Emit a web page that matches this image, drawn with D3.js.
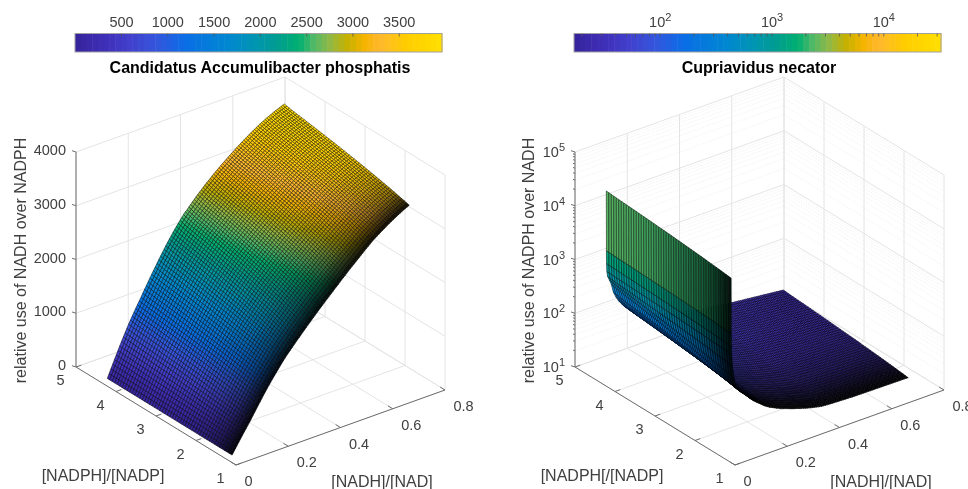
<!DOCTYPE html>
<html>
<head>
<meta charset="utf-8">
<script src="https://d3js.org/d3.v7.min.js"></script>
<style>
  html, body { margin: 0; background: #fff; }
  svg { display: block; filter: blur(0.3px); font-family: "Liberation Sans", Arial, sans-serif; }
  .tick-label { fill: #404040; font-size: 14.5px; }
  .axis-label { fill: #404040; font-size: 16px; }
  .title { fill: #000; font-size: 16px; font-weight: bold; text-anchor: middle; }
  .grid { stroke: #e4e4e4; stroke-width: 1; fill: none; }
  .grid--minor { stroke: #ececec; stroke-width: 0.7; stroke-dasharray: 1 1; }
  .axis { stroke: #6e6e6e; stroke-width: 1; fill: none; }
  .cell { stroke-width: 0.6; }
  .bar-frame { fill: none; stroke: #a0a0a0; stroke-width: 1; }
  .bar-axis text { fill: #404040; font-size: 14.5px; font-family: "Liberation Sans", Arial, sans-serif; }
  .bar-axis line { stroke: #555; stroke-opacity: 0.8; }
</style>
</head>
<body>
<svg id="chart" width="968" height="489"></svg>
<script>
const titles = ['Candidatus Accumulibacter phosphatis', 'Cupriavidus necator'];
const zLabels = ['relative use of NADH over NADPH', 'relative use of NADPH over NADH'];
const yLabels = ['[NADPH]/[NADP]', '[NADPH[/[NADP]'];
const xLabel = '[NADH]/[NAD]';

const xTicks = [0, 0.2, 0.4, 0.6, 0.8];
const yTicks = [1, 2, 3, 4, 5];
const zTicksLeft = [0, 1000, 2000, 3000, 4000];
const zTicksRight = [1e1, 1e2, 1e3, 1e4, 1e5];
const barTicksLeft = [500, 1000, 1500, 2000, 2500, 3000, 3500];

// Colorbar limits.
const barDomainLeft = [3, 3968];
const barDomainRight = [17.1, 32800];

const colorPositions = [0, 0.08, 0.15, 0.22, 0.3, 0.42, 0.5, 0.55, 0.61, 0.65, 0.7, 0.74, 0.79, 0.83, 0.9, 1];
const colorValues = ['#35239a', '#3f2fb8', '#4240cc', '#3555dc', '#0a6ee6', '#0088d0', '#0096ac', '#009c90',
  '#00b070', '#50b868', '#98b840', '#c4b000', '#f5b400', '#ffb830', '#ffcc00', '#ffe000'];

// The mesh lines of both surfaces along [NADPH]/[NADP].
const yMesh = d3.range(51).map(j => 1.28 + j * 0.0624);

// Position of each mesh line between the low and the high edge of a surface.
const yBlend = [0, .028, .055, .082, .108, .134, .159, .184, .208, .232,
  .255, .278, .301, .323, .345, .367, .388, .409, .430, .450,
  .470, .490, .510, .529, .548, .567, .586, .604, .622, .640,
  .658, .676, .693, .710, .727, .744, .761, .778, .794, .810,
  .826, .842, .858, .873, .888, .903, .918, .936, .956, .978, 1];

// Darkening of the surfaces towards the low [NADPH]/[NADP] edge.
const lightAt = [0, 0.06, 0.15, 0.3, 0.5, 0.7, 1];
const lightLeft = [0.1, 0.32, 0.6, 0.82, 0.95, 1, 1];
const lightPlain = [0.05, 0.14, 0.36, 0.68, 0.9, 1, 1];
const lightWall = [0.12, 0.2, 0.36, 0.55, 0.72, 0.9, 1];
// How much of the wall light each of the first rows of the right surface gets.
const wallShare = [1, 1, 0.85, 0.7, 0.55, 0.4, 0.28, 0.18, 0.1, 0.04];

// Accumulibacter: values along [NADH]/[NAD] on the two edges of the surface.
const xMeshLeft = d3.range(101).map(i => 0.028 + i * 0.00678);
const accumulibacterHigh = [12, 88, 163, 238, 313, 386, 459, 531, 603, 674, 743, 812, 878, 940, 1002, 1063, 1122, 1181, 1239, 1296,
  1358, 1417, 1476, 1535, 1592, 1650, 1707, 1763, 1819, 1875, 1929, 1983, 2036, 2089, 2140, 2189, 2238, 2286, 2332, 2378,
  2423, 2466, 2509, 2551, 2591, 2619, 2655, 2691, 2727, 2761, 2795, 2829, 2861, 2893, 2925, 2955, 2986, 3015, 3045, 3074,
  3102, 3131, 3159, 3186, 3213, 3240, 3266, 3292, 3318, 3343, 3368, 3392, 3417, 3441, 3464, 3488, 3512, 3534, 3557, 3580,
  3601, 3623, 3643, 3664, 3684, 3703, 3722, 3741, 3758, 3776, 3793, 3809, 3825, 3841, 3855, 3870, 3883, 3897, 3910, 3922, 3934];
const accumulibacterLow = [8, 60, 111, 163, 214, 264, 314, 363, 412, 461, 509, 562, 615, 667, 719, 771, 822, 873, 924, 973,
  1023, 1069, 1115, 1161, 1206, 1251, 1295, 1338, 1381, 1424, 1465, 1502, 1538, 1575, 1612, 1647, 1683, 1719, 1753, 1788,
  1823, 1857, 1892, 1927, 1960, 1994, 2027, 2061, 2095, 2127, 2160, 2193, 2225, 2257, 2289, 2320, 2352, 2383, 2415, 2447,
  2478, 2510, 2542, 2572, 2603, 2634, 2664, 2695, 2725, 2754, 2784, 2813, 2843, 2873, 2902, 2931, 2960, 2988, 3017, 3045,
  3071, 3095, 3118, 3141, 3164, 3186, 3208, 3230, 3251, 3272, 3293, 3313, 3333, 3353, 3371, 3390, 3407, 3425, 3442, 3458, 3474];

// Cupriavidus: same thing in decades. The first rows stand almost on top of
// each other on the wall, the rest of the mesh is regular.
const xWallRight = [0.028, 0.0285, 0.029, 0.030, 0.033, 0.039, 0.047, 0.055, 0.064, 0.074, 0.086];
const xMeshRight = xWallRight.concat(d3.range(90).map(i => 0.0929 + i * 0.00689));
const necatorHigh = [4.50, 3.39, 3.15, 3.00, 2.90, 2.83, 2.73, 2.57, 2.47, 2.38, 2.30,
  2.257, 2.225, 2.193, 2.165, 2.138, 2.115, 2.093, 2.071, 2.053, 2.036, 2.013, 1.996, 1.979, 1.956, 1.944, 1.931, 1.919, 1.902, 1.889,
  1.877, 1.864, 1.852, 1.84, 1.827, 1.815, 1.802, 1.793, 1.783, 1.775, 1.768, 1.76, 1.753, 1.746, 1.738, 1.731, 1.723, 1.716, 1.709, 1.701,
  1.694, 1.686, 1.679, 1.674, 1.669, 1.664, 1.659, 1.654, 1.65, 1.644, 1.64, 1.634, 1.63, 1.625, 1.62, 1.615, 1.61, 1.605, 1.601, 1.595,
  1.591, 1.585, 1.581, 1.578, 1.573, 1.57, 1.565, 1.562, 1.558, 1.554, 1.551, 1.546, 1.543, 1.539, 1.535, 1.531, 1.527, 1.524, 1.52, 1.516,
  1.512, 1.508, 1.504, 1.501, 1.497, 1.493, 1.489, 1.485, 1.482, 1.477, 1.474];
const necatorLow = [4.30, 3.27, 3.03, 2.88, 2.66, 2.42, 2.26, 2.17, 2.12, 2.07, 2.02,
  1.977, 1.94, 1.903, 1.87, 1.843, 1.815, 1.788, 1.761, 1.733, 1.706, 1.683, 1.661, 1.639, 1.626, 1.609, 1.591, 1.574, 1.562, 1.544,
  1.532, 1.519, 1.507, 1.495, 1.482, 1.47, 1.457, 1.445, 1.438, 1.425, 1.413, 1.405, 1.393, 1.381, 1.373, 1.366, 1.353, 1.346, 1.339, 1.331,
  1.324, 1.316, 1.309, 1.307, 1.304, 1.302, 1.299, 1.297, 1.296, 1.294, 1.293, 1.291, 1.29, 1.289, 1.287, 1.286, 1.284, 1.283, 1.282, 1.28,
  1.279, 1.278, 1.278, 1.278, 1.277, 1.277, 1.276, 1.276, 1.276, 1.275, 1.275, 1.274, 1.274, 1.274, 1.273, 1.273, 1.272, 1.272, 1.272, 1.271,
  1.271, 1.27, 1.27, 1.27, 1.269, 1.269, 1.268, 1.268, 1.268, 1.267, 1.264];

const chart = d3.select('#chart');
const colormap = d3.scaleLinear().domain(colorPositions).range(colorValues).clamp(true);

function litColor(color, k) {
  const c = d3.rgb(color);
  return d3.rgb(c.r * k, c.g * k, c.b * k).formatRgb();
}

function tenTo(g, power) {
  g.append('tspan').text('10');
  g.append('tspan').attr('dy', -6).style('font-size', '11px').text(power);
}

function drawPanel(p) {
  const g = chart.append('g').attr('transform', `translate(${p.shift}, 0)`);

  // MATLAB view of the box: the three axes as screen vectors from the front corner.
  const xFrac = d3.scaleLinear().domain([0, 0.8]).range([0, 1]);
  const yFrac = d3.scaleLinear().domain([1, 5]).range([0, 1]);
  const zPix = p.zScale;
  const project = (x, y, z) => [
    236 + 209 * xFrac(x) - 160 * yFrac(y),
    465 - 75 * xFrac(x) - 98 * yFrac(y) - zPix(z)
  ];
  const line = d3.line();
  const [zMin, zMax] = zPix.domain();

  const addGrid = (points, cls) => g.append('path').attr('class', cls).attr('d', line(points.map(d => project(...d))));

  if (p.zMinor) {
    p.zMinor.forEach(z => addGrid([[0, 5, z], [0.8, 5, z], [0.8, 1, z]], 'grid grid--minor'));
  }
  xTicks.forEach(x => addGrid([[x, 1, zMin], [x, 5, zMin], [x, 5, zMax]], 'grid'));
  yTicks.forEach(y => addGrid([[0, y, zMin], [0.8, y, zMin], [0.8, y, zMax]], 'grid'));
  p.zTicks.forEach(z => addGrid([[0, 5, z], [0.8, 5, z], [0.8, 1, z]], 'grid'));

  addGrid([[0, 5, zMax], [0, 5, zMin], [0, 1, zMin], [0.8, 1, zMin]], 'axis');

  xTicks.forEach(x => {
    addGrid([[x, 1, zMin], [x, 1.12, zMin]], 'axis');
    const [px, py] = project(x, 1, zMin);
    g.append('text').attr('class', 'tick-label').attr('x', px + 8.5).attr('y', py + 21).text(x);
  });
  yTicks.forEach(y => {
    addGrid([[0, y, zMin], [0.02, y, zMin]], 'axis');
    const [px, py] = project(0, y, zMin);
    g.append('text').attr('class', 'tick-label').attr('text-anchor', 'middle').attr('x', px - 15.4).attr('y', py + 18).text(y);
  });
  p.zTicks.forEach((z, i) => {
    const [px, py] = project(0, 5, z);
    g.append('line').attr('class', 'axis').attr('x1', px - 4).attr('y1', py - 1.3).attr('x2', px).attr('y2', py);
    const label = g.append('text').attr('class', 'tick-label').attr('text-anchor', 'end').attr('x', px - 10).attr('y', py + p.zLabelDy);
    if (p.zMinor) tenTo(label, i + 1);
    else label.text(z);
  });
  (p.zMinor || []).forEach(z => {
    const [px, py] = project(0, 5, z);
    g.append('line').attr('class', 'axis').attr('stroke-width', 0.7).attr('x1', px - 2).attr('y1', py - 0.7).attr('x2', px).attr('y2', py);
  });

  // Back to front: far corner first, so the wall ends up in front of the plain.
  const cells = [];
  for (let i = p.xMesh.length - 2; i >= 0; i--) {
    for (let j = yMesh.length - 2; j >= 0; j--) {
      cells.push({i, j});
    }
  }
  const vertex = (i, j) => project(p.xMesh[i], yMesh[j], p.value(i, j));
  const cellColor = ({i, j}) => colormap(p.colorFrac(p.value(i + 1, j)));
  g.append('g').selectAll('path').data(cells).join('path')
    .attr('class', 'cell')
    .attr('d', ({i, j}) => line([vertex(i, j), vertex(i + 1, j), vertex(i + 1, j + 1), vertex(i, j + 1)]) + 'Z')
    .attr('fill', d => litColor(cellColor(d), p.lightAt(d.i, yBlend[d.j])))
    .attr('stroke', d => litColor(cellColor(d), 0.2 * p.lightAt(d.i, yBlend[d.j])));

  // Colorbar, 64 steps like the MATLAB colormap.
  const barTop = 33.5, barHeight = 18.5;
  const barGroup = g.append('g');
  barGroup.selectAll('rect').data(d3.range(64)).join('rect')
    .attr('x', d => p.barX + d * p.barWidth / 64)
    .attr('y', barTop)
    .attr('width', p.barWidth / 64 + 0.5)
    .attr('height', barHeight)
    .attr('fill', d => colormap((d + 0.5) / 64));
  barGroup.append('rect').attr('class', 'bar-frame')
    .attr('x', p.barX).attr('y', barTop).attr('width', p.barWidth).attr('height', barHeight);

  const barScale = p.barScale.range([p.barX, p.barX + p.barWidth]);
  const barAxis = d3.axisTop(barScale).tickValues(p.barTicks).tickSize(-3).tickSizeOuter(0).tickPadding(7);
  if (p.barFormat) barAxis.tickFormat(p.barFormat);
  else barAxis.tickFormat(d => d);
  const axisGroup = g.append('g').attr('class', 'bar-axis').attr('transform', `translate(0, ${barTop})`).call(barAxis);
  axisGroup.select('.domain').remove();
  if (p.barFormat) {
    axisGroup.selectAll('.tick text').each(function () {
      const t = d3.select(this);
      const power = t.text();
      t.text(null);
      if (power) {
        t.attr('text-anchor', 'middle');
        tenTo(t, power);
      }
    });
  }

  g.append('text').attr('class', 'title').attr('x', p.titleX).attr('y', 73).text(p.title);
  g.append('text').attr('class', 'axis-label').attr('text-anchor', 'middle')
    .attr('transform', `translate(${p.zLabelX}, 260.5) rotate(-90)`).text(p.zLabel);
  g.append('text').attr('class', 'axis-label').attr('text-anchor', 'middle').attr('x', 103).attr('y', 481).text(p.yLabel);
  g.append('text').attr('class', 'axis-label').attr('text-anchor', 'middle').attr('x', 382).attr('y', 487).text(xLabel);
}

const leftColor = d3.scaleLinear().domain(barDomainLeft).range([0, 1]);
const leftLight = d3.scaleLinear().domain(lightAt).range(lightLeft);
drawPanel({
  shift: 0,
  title: titles[0],
  titleX: 260,
  zLabel: zLabels[0],
  zLabelX: 26,
  zLabelDy: 3,
  yLabel: yLabels[0],
  zScale: d3.scaleLinear().domain([0, 4000]).range([0, 215]),
  zTicks: zTicksLeft,
  xMesh: xMeshLeft,
  value: (i, j) => accumulibacterLow[i] + yBlend[j] * (accumulibacterHigh[i] - accumulibacterLow[i]),
  colorFrac: v => leftColor(v),
  lightAt: (i, w) => leftLight(w),
  barX: 75,
  barWidth: 367,
  barScale: d3.scaleLinear().domain(barDomainLeft),
  barTicks: barTicksLeft
});

const decades = [1e1, 1e2, 1e3, 1e4];
const minorValues = decades.flatMap(d => d3.range(2, 10).map(m => d * m));
const rightColor = d3.scaleLog().domain(barDomainRight).range([0, 1]);
const plainLight = d3.scaleLinear().domain(lightAt).range(lightPlain);
const wallLight = d3.scaleLinear().domain(lightAt).range(lightWall);
drawPanel({
  shift: 499,
  title: titles[1],
  titleX: 260,
  zLabel: zLabels[1],
  zLabelX: 35,
  zLabelDy: 5,
  yLabel: yLabels[1],
  zScale: d3.scaleLog().domain([1e1, 1e5]).range([0, 215]),
  zTicks: zTicksRight,
  zMinor: minorValues,
  xMesh: xMeshRight,
  value: (i, j) => Math.pow(10, necatorLow[i] + yBlend[j] * (necatorHigh[i] - necatorLow[i])),
  colorFrac: v => rightColor(v),
  lightAt: (i, w) => {
    const share = i < wallShare.length ? wallShare[i] : 0;
    return plainLight(w) + share * (wallLight(w) - plainLight(w));
  },
  barX: 75,
  barWidth: 367,
  barScale: d3.scaleLog().domain(barDomainRight),
  barTicks: minorValues.concat(zTicksRight.slice(0, 4)).filter(d => d >= barDomainRight[0] && d <= barDomainRight[1]),
  barFormat: d => [100, 1000, 10000].includes(d) ? String(Math.log10(d)) : ''
});
</script>
</body>
</html>
